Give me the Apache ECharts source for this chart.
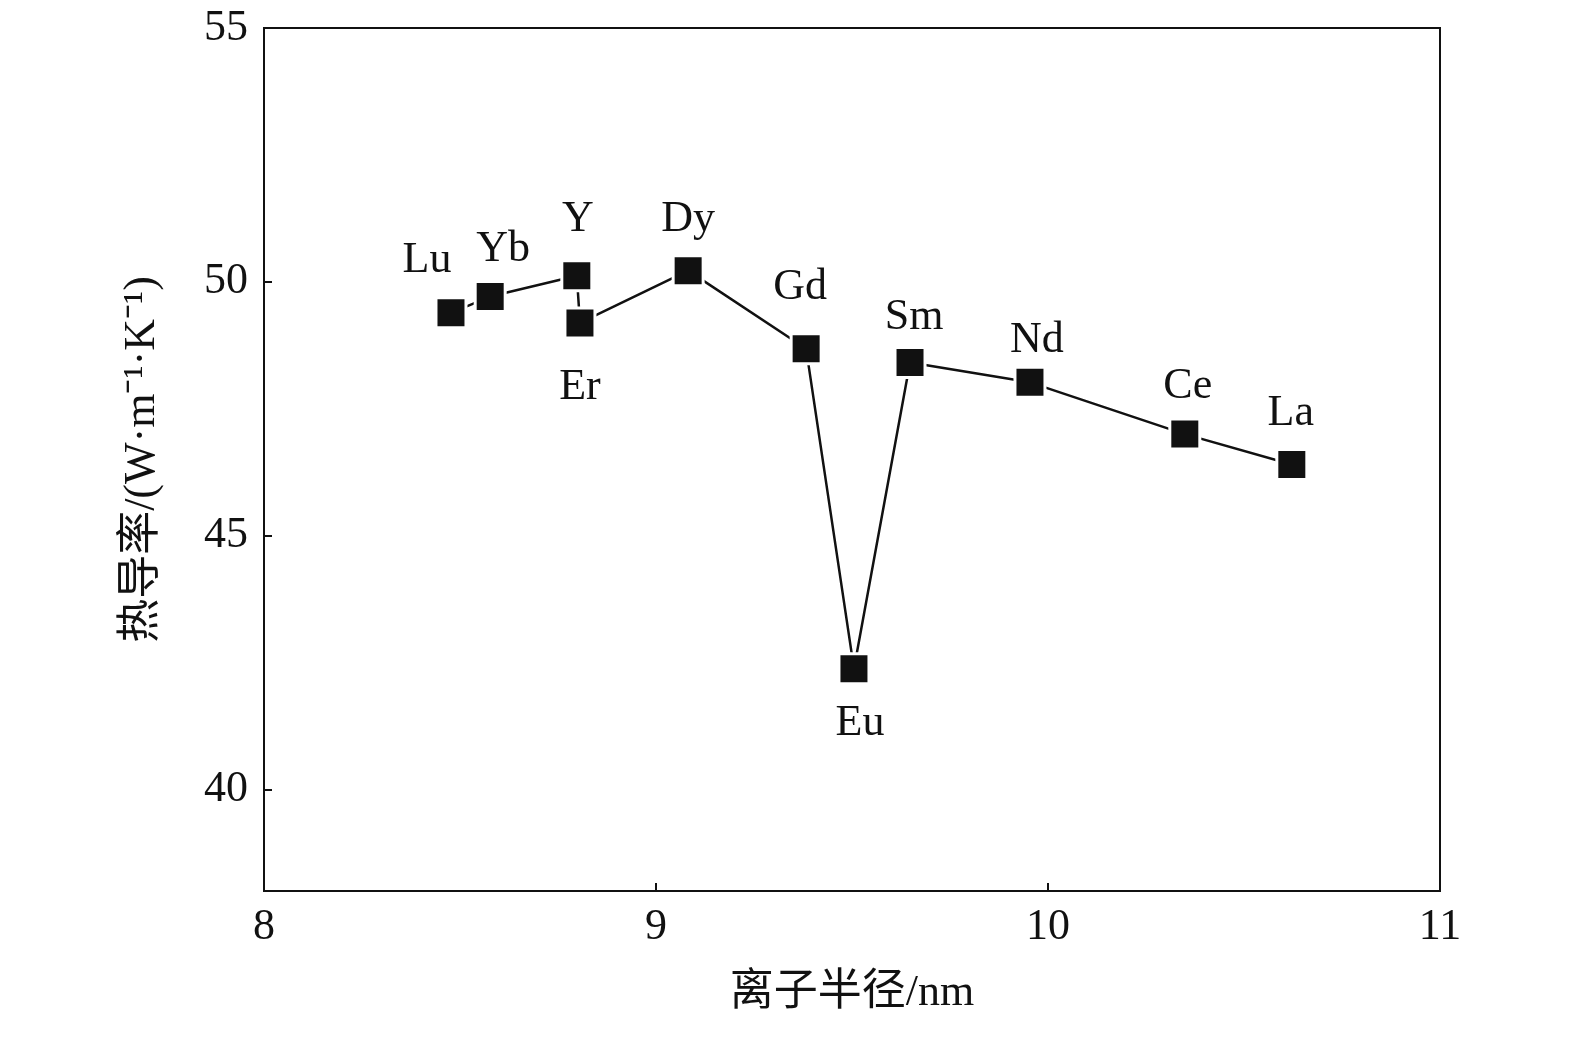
<!DOCTYPE html>
<html><head><meta charset="utf-8">
<script src="https://cdn.jsdelivr.net/npm/echarts@6/dist/echarts.min.js"></script>
<style>html,body{margin:0;background:#fff}#c{width:1575px;height:1041px}</style>
</head><body><div id="c"></div>
<script>
const elements = ['Lu','Yb','Y','Er','Dy','Gd','Eu','Sm','Nd','Ce','La'];
const radius = [8.477,8.577,8.798,8.806,9.082,9.383,9.505,9.648,9.954,10.349,10.622];
const conductivity = [49.39,49.71,50.12,49.19,50.22,48.68,42.38,48.41,48.02,47.0,46.40];
const labelPlace = {
  Lu:['top',[-24,-9]], Yb:['top',[13,-4]], Y:['top',[1,-13]], Er:['bottom',[0,21]],
  Dy:['top',[0,-8]], Gd:['top',[-6,-18]], Eu:['bottom',[6,11]], Sm:['top',[4,-2]],
  Nd:['top',[7,2]], Ce:['top',[3,-4]], La:['top',[-1,-8]]
};
const font = '"Liberation Serif","Times New Roman",serif';
const cjk = '"Liberation Serif","Noto Sans CJK SC",serif';
const data = elements.map((e,i)=>({
  value:[radius[i],conductivity[i]], name:e,
  label:{show:true, formatter:e, position:labelPlace[e][0], offset:labelPlace[e][1], distance:5,
    fontFamily:font, fontSize:44, color:'#111'}
}));
const axisCommon = {
  axisLine:{show:true,lineStyle:{color:'#111',width:2}},
  axisTick:{show:true,inside:true,length:8,lineStyle:{color:'#111',width:2}},
  axisLabel:{fontFamily:font,fontSize:44,color:'#111',margin:14},
  splitLine:{show:false}
};
const chart = echarts.init(document.getElementById('c'));
chart.setOption({
  animation:false,
  grid:{left:264,right:135,top:28,bottom:150,show:true,borderColor:'#111',borderWidth:2},
  xAxis:Object.assign({type:'value',min:8,max:11,interval:1,
    name:'离子半径/nm',nameLocation:'middle',nameGap:80,
    nameTextStyle:{fontFamily:cjk,fontSize:44,color:'#111'}},axisCommon),
  yAxis:Object.assign({type:'value',min:38,max:55,
    axisLabel:{fontFamily:font,fontSize:44,color:'#111',margin:16,
      customValues:[40,45,50,55]},
    axisTick:{show:true,inside:true,length:8,customValues:[40,45,50,55],lineStyle:{color:'#111',width:2}},
    name:'热导率/(W·m⁻¹·K⁻¹)',nameLocation:'middle',nameGap:100,nameRotate:90,
    nameTextStyle:{fontFamily:cjk,fontSize:44,color:'#111'}},
    {axisLine:axisCommon.axisLine,splitLine:{show:false}}),
  series:[{type:'line',data:data,symbol:'rect',symbolSize:30,
    lineStyle:{color:'#111',width:2.5},
    itemStyle:{color:'#111',borderColor:'#fff',borderWidth:3}}]
});
</script></body></html>
